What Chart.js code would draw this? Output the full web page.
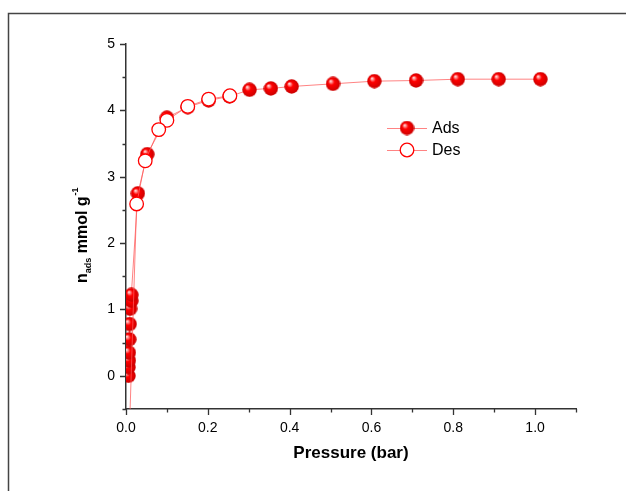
<!DOCTYPE html>
<html>
<head>
<meta charset="utf-8">
<script src="https://cdn.jsdelivr.net/npm/chart.js@4"></script>
<style>
  html, body { margin: 0; padding: 0; background: #fff; }
  #wrap { width: 626px; height: 491px; position: relative; }
</style>
</head>
<body>
<div id="wrap"><canvas id="isotherm"></canvas></div>
<script>
// adsorption branch
const adsP = [0.006, 0.006, 0.007, 0.007, 0.008, 0.009, 0.010, 0.013, 0.013, 0.029, 0.052, 0.100, 0.151, 0.202, 0.253, 0.302, 0.354, 0.405, 0.506, 0.607, 0.709, 0.811, 0.911, 1.013];
const adsN = [0.00, 0.13, 0.23, 0.35, 0.55, 0.78, 1.01, 1.13, 1.22, 2.75, 3.34, 3.89, 4.05, 4.15, 4.21, 4.31, 4.33, 4.36, 4.40, 4.44, 4.45, 4.47, 4.47, 4.47];
// desorption branch (last point runs off the bottom of the plot)
const desP = [0.254, 0.202, 0.151, 0.100, 0.080, 0.047, 0.026, 0.008];
const desN = [4.22, 4.17, 4.06, 3.85, 3.71, 3.24, 2.59, -0.9];

const xTicks = ['0.0', '0.2', '0.4', '0.6', '0.8', '1.0'];
const yTicks = ['0', '1', '2', '3', '4', '5'];

const FONT = 'Arial, "Liberation Sans", sans-serif';
const RED = '#ff0000';
const LINE = 'rgba(255, 90, 90, 0.75)';
const AXIS = '#333';

// shiny sphere marker
function makeSphere(d) {
  const c = document.createElement('canvas');
  c.width = d; c.height = d;
  const g = c.getContext('2d');
  const r = d / 2;
  const grad = g.createRadialGradient(r - r * 0.35, r - r * 0.4, 0, r, r, r);
  grad.addColorStop(0, '#ffffff');
  grad.addColorStop(0.15, '#ffa0a0');
  grad.addColorStop(0.4, '#ff0000');
  grad.addColorStop(1, '#c80000');
  g.fillStyle = grad;
  g.beginPath();
  g.arc(r, r, r - 0.3, 0, Math.PI * 2);
  g.fill();
  return c;
}
const sphere = makeSphere(15);

const toXY = (xs, ys) => xs.map((x, i) => ({ x: x, y: ys[i] }));

const decor = {
  id: 'decor',
  afterDraw(chart) {
    const ctx = chart.ctx;
    const xs = chart.scales.x, ys = chart.scales.y;
    ctx.save();
    // outer frame
    ctx.strokeStyle = '#444';
    ctx.lineWidth = 1.5;
    ctx.beginPath();
    ctx.moveTo(8.5, 491);
    ctx.lineTo(8.5, 13.5);
    ctx.lineTo(626, 13.5);
    ctx.stroke();

    // major / minor ticks
    ctx.strokeStyle = AXIS;
    ctx.lineWidth = 1.3;
    ctx.beginPath();
    for (let k = 0; k <= 11; k++) {
      const px = Math.round(xs.getPixelForValue(k / 10)) + 0.5;
      const len = k % 2 === 0 ? 6 : 3.5;
      ctx.moveTo(px, xs.top);
      ctx.lineTo(px, xs.top + len);
    }
    for (let k = -1; k <= 10; k++) {
      const py = Math.round(ys.getPixelForValue(k / 2)) + 0.5;
      const len = k % 2 === 0 ? 6 : 3.5;
      ctx.moveTo(ys.right, py);
      ctx.lineTo(ys.right - len, py);
    }
    ctx.stroke();

    // x title
    ctx.fillStyle = '#000';
    ctx.font = 'bold 17px ' + FONT;
    ctx.textAlign = 'center';
    ctx.textBaseline = 'alphabetic';
    ctx.fillText('Pressure (bar)', 351, 458);

    // y title with sub/superscript
    ctx.save();
    ctx.translate(87, 283);
    ctx.rotate(-Math.PI / 2);
    ctx.textAlign = 'left';
    let x = 0;
    ctx.font = 'bold 16px ' + FONT;
    ctx.fillText('n', x, 0); x += ctx.measureText('n').width;
    ctx.font = 'bold 9px ' + FONT;
    ctx.fillText('ads', x, 4); x += ctx.measureText('ads').width;
    ctx.font = 'bold 16px ' + FONT;
    ctx.fillText(' mmol g', x, 0); x += ctx.measureText(' mmol g').width;
    ctx.font = 'bold 9px ' + FONT;
    ctx.fillText('-1', x + 1, -9);
    ctx.restore();

    // legend
    const items = [
      { label: 'Ads', y: 128, filled: true },
      { label: 'Des', y: 150, filled: false }
    ];
    items.forEach(it => {
      ctx.strokeStyle = LINE;
      ctx.lineWidth = 1;
      ctx.beginPath();
      ctx.moveTo(387, it.y + 0.5);
      ctx.lineTo(427, it.y + 0.5);
      ctx.stroke();
      if (it.filled) {
        ctx.drawImage(sphere, 407 - 7.5, it.y - 7.5);
      } else {
        ctx.fillStyle = '#fff';
        ctx.strokeStyle = RED;
        ctx.lineWidth = 1.3;
        ctx.beginPath();
        ctx.arc(407, it.y, 6.8, 0, Math.PI * 2);
        ctx.fill();
        ctx.stroke();
      }
      ctx.fillStyle = '#000';
      ctx.font = '16px ' + FONT;
      ctx.textAlign = 'left';
      ctx.textBaseline = 'middle';
      ctx.fillText(it.label, 432, it.y + 1);
    });
    ctx.restore();
  }
};

new Chart(document.getElementById('isotherm').getContext('2d'), {
  type: 'scatter',
  data: {
    datasets: [
      {
        label: 'Ads',
        data: toXY(adsP, adsN),
        showLine: true,
        borderColor: LINE,
        borderWidth: 1,
        pointStyle: sphere,
        pointRadius: 7.5,
        order: 1
      },
      {
        label: 'Des',
        data: toXY(desP, desN),
        showLine: true,
        borderColor: LINE,
        borderWidth: 1,
        pointStyle: 'circle',
        pointRadius: 6.8,
        pointBackgroundColor: '#fff',
        pointBorderColor: RED,
        pointBorderWidth: 1.3,
        order: 0
      }
    ]
  },
  options: {
    responsive: true,
    maintainAspectRatio: false,
    animation: false,
    layout: { padding: { top: 44, right: 50, left: 0, bottom: 0 } },
    plugins: { legend: { display: false }, tooltip: { enabled: false } },
    scales: {
      x: {
        type: 'linear',
        min: 0, max: 1.1,
        afterFit: s => { s.height = 82; },
        border: { color: AXIS, width: 1.5 },
        grid: { drawOnChartArea: false, tickLength: 6, tickColor: 'rgba(0,0,0,0)' },
        ticks: {
          stepSize: 0.1,
          autoSkip: false,
          maxRotation: 0,
          padding: 5,
          color: '#000',
          font: { family: FONT, size: 14 },
          callback: v => {
            const k = Math.round(v * 10);
            return k % 2 === 0 ? xTicks[k / 2] || '' : '';
          }
        }
      },
      y: {
        min: -0.5, max: 5,
        afterFit: s => { s.width = 126; },
        border: { color: AXIS, width: 1.5 },
        grid: { drawOnChartArea: false, tickLength: 6, tickColor: 'rgba(0,0,0,0)' },
        ticks: {
          stepSize: 0.5,
          autoSkip: false,
          padding: 5,
          color: '#000',
          font: { family: FONT, size: 14 },
          callback: v => {
            const k = Math.round(v * 2);
            return (k >= 0 && k % 2 === 0) ? yTicks[k / 2] || '' : '';
          }
        }
      }
    }
  },
  plugins: [decor]
});
</script>
</body>
</html>
